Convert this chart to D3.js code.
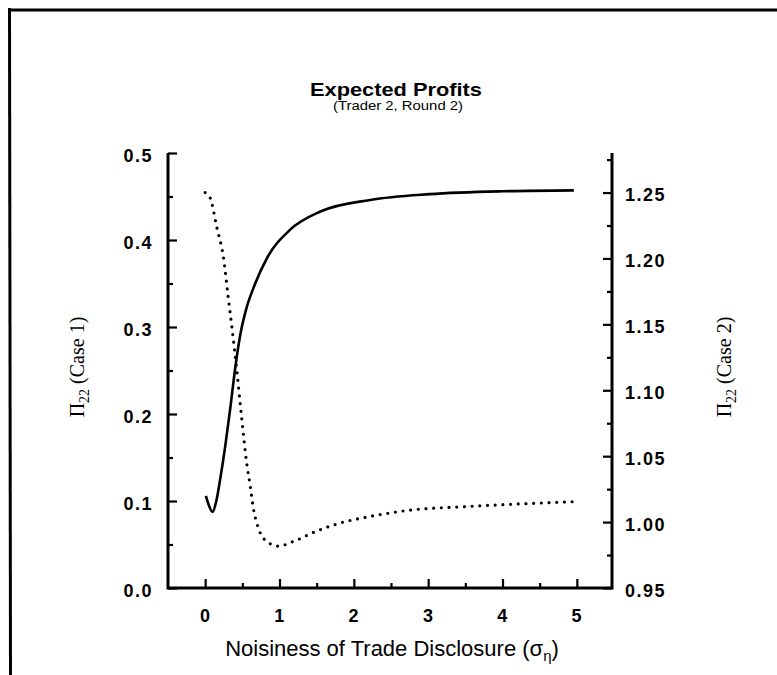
<!DOCTYPE html>
<html>
<head>
<meta charset="utf-8">
<script src="https://cdn.jsdelivr.net/npm/d3@7"></script>
<style>
	body { margin: 0; background: #fff; }
	svg { display: block; }
	.tick text { font-family: "Liberation Sans", Arial, sans-serif; font-weight: bold; font-size: 18px; letter-spacing: 1.5px; fill: #000; }
</style>
</head>
<body>
<div id="vis-container"></div>
<script>

// Case 1 (solid, left axis)
var case1X = [0.01, 0.05, 0.10, 0.15, 0.20, 0.27, 0.34, 0.40, 0.47, 0.55, 0.65, 0.83, 1.14, 1.55, 2.22, 3.02, 4.00, 4.96];
var case1Y = [0.106, 0.095, 0.0875, 0.100, 0.124, 0.163, 0.208, 0.250, 0.290, 0.320, 0.345, 0.379, 0.4116, 0.4327, 0.446, 0.4527, 0.456, 0.457];

// Case 2 (dotted, right axis)
var case2X = [0.0, 0.067, 0.157, 0.246, 0.31, 0.36, 0.426, 0.49, 0.56, 0.605, 0.65, 0.70, 0.80, 0.985, 1.19, 1.50, 1.81, 2.22, 2.73, 3.56, 4.97];
var case2Y = [1.250, 1.246, 1.2235, 1.2008, 1.1705, 1.1477, 1.1149, 1.0796, 1.0442, 1.0278, 1.010, 0.9983, 0.9867, 0.9818, 0.9854, 0.9932, 0.9992, 1.0043, 1.0089, 1.0119, 1.0155];

// tick values
var xTicks = [0, 1, 2, 3, 4, 5];
var xMinor = [0.5, 1.5, 2.5, 3.5, 4.5];
var leftTicks = [0.0, 0.1, 0.2, 0.3, 0.4, 0.5];
var leftMinor = [0.05, 0.15, 0.25, 0.35, 0.45];
var rightTicks = [0.95, 1.00, 1.05, 1.10, 1.15, 1.20, 1.25];
var rightMinor = [0.975, 1.025, 1.075, 1.125, 1.175, 1.225, 1.275];

var width = 777;
var height = 675;

// plot box
var boxLeft = 168, boxRight = 612, boxTop = 153, boxBottom = 588;

var svg = d3.select("#vis-container")
	.append("svg")
	.attr("width", width)
	.attr("height", height);

// scanned frame (top and left edges only)
svg.append("line")
	.attr("x1", 8).attr("x2", width).attr("y1", 10).attr("y2", 10)
	.attr("stroke", "#000").attr("stroke-width", 3);
svg.append("line")
	.attr("x1", 9.5).attr("x2", 10.5).attr("y1", 8).attr("y2", height)
	.attr("stroke", "#000").attr("stroke-width", 3);

var xscale = d3.scaleLinear().domain([-0.5, 5.5]).range([boxLeft, boxRight + 2]);
var yleft = d3.scaleLinear().domain([0, 0.5]).range([boxBottom, boxTop]);
var yright = d3.scaleLinear().domain([0.95, 1.28]).range([boxBottom, boxTop]);

// minor ticks first
svg.append("g")
	.attr("transform", "translate(0," + boxBottom + ")")
	.call(d3.axisBottom(xscale).tickValues(xMinor).tickSize(-5).tickFormat(""))
	.call(function(g) { g.select(".domain").remove(); });
svg.append("g")
	.attr("transform", "translate(" + boxLeft + ",0)")
	.call(d3.axisLeft(yleft).tickValues(leftMinor).tickSize(-5).tickFormat(""))
	.call(function(g) { g.select(".domain").remove(); });
svg.append("g")
	.attr("transform", "translate(" + boxRight + ",0)")
	.call(d3.axisRight(yright).tickValues(rightMinor).tickSize(-5).tickFormat(""))
	.call(function(g) { g.select(".domain").remove(); });

// major axes
var xaxisg = svg.append("g")
	.attr("transform", "translate(0," + boxBottom + ")")
	.call(d3.axisBottom(xscale).tickValues(xTicks).tickSize(-9).tickPadding(21).tickFormat(d3.format("d")));
xaxisg.select(".domain").remove();

var yleftg = svg.append("g")
	.attr("transform", "translate(" + boxLeft + ",0)")
	.call(d3.axisLeft(yleft).tickValues(leftTicks).tickSize(-9).tickPadding(15).tickFormat(d3.format(".1f")));
yleftg.select(".domain").remove();

var yrightg = svg.append("g")
	.attr("transform", "translate(" + boxRight + ",0)")
	.call(d3.axisRight(yright).tickValues(rightTicks).tickSize(-9).tickPadding(13).tickFormat(d3.format(".2f")));
yrightg.select(".domain").remove();

svg.selectAll(".tick line").attr("stroke", "#000").attr("stroke-width", 2.2);
yleftg.selectAll(".tick text").attr("dy", "0.45em");
yrightg.selectAll(".tick text").attr("dy", "0.45em");

// axis frame: left, bottom, right
svg.append("path")
	.attr("d", "M" + boxLeft + "," + boxTop + "V" + boxBottom + "H" + boxRight + "V" + boxTop)
	.attr("fill", "none")
	.attr("stroke", "#000")
	.attr("stroke-width", 3);

// curves
var case1 = case1X.map(function(x, i) { return [x, case1Y[i]]; });
var case2 = case2X.map(function(x, i) { return [x, case2Y[i]]; });

var line1 = d3.line()
	.x(function(d) { return xscale(d[0]); })
	.y(function(d) { return yleft(d[1]); })
	.curve(d3.curveMonotoneX);
var line2 = d3.line()
	.x(function(d) { return xscale(d[0]); })
	.y(function(d) { return yright(d[1]); })
	.curve(d3.curveMonotoneX);

svg.append("path")
	.datum(case2)
	.attr("d", line2)
	.attr("fill", "none")
	.attr("stroke", "#000")
	.attr("stroke-width", 3.2)
	.attr("stroke-linecap", "round")
	.attr("stroke-dasharray", "0 7.7");

svg.append("path")
	.datum(case1)
	.attr("d", line1)
	.attr("fill", "none")
	.attr("stroke", "#000")
	.attr("stroke-width", 2.6);

// titles
svg.append("text")
	.attr("x", 396).attr("y", 96)
	.attr("text-anchor", "middle")
	.attr("textLength", 172)
	.attr("lengthAdjust", "spacingAndGlyphs")
	.style("font-family", "Liberation Sans, Arial, sans-serif")
	.style("font-weight", "bold")
	.style("font-size", "19px")
	.text("Expected Profits");

svg.append("text")
	.attr("x", 398).attr("y", 110)
	.attr("text-anchor", "middle")
	.attr("textLength", 130)
	.attr("lengthAdjust", "spacingAndGlyphs")
	.style("font-family", "Liberation Sans, Arial, sans-serif")
	.style("font-size", "12px")
	.text("(Trader 2, Round 2)");

// x label
var xl = svg.append("text")
	.attr("x", 392).attr("y", 656)
	.attr("text-anchor", "middle")
	.style("font-family", "Liberation Sans, Arial, sans-serif")
	.style("font-size", "22px");
xl.append("tspan").text("Noisiness of Trade Disclosure (σ");
xl.append("tspan").attr("dy", 5).style("font-size", "15px").text("η");
xl.append("tspan").attr("dy", -5).text(")");

// y labels
function ylabel(x, txt) {
	var t = svg.append("text")
		.attr("transform", "translate(" + x + ",367) rotate(-90)")
		.attr("text-anchor", "middle")
		.style("font-family", "Liberation Serif, Times New Roman, serif")
		.style("font-size", "20px");
	t.append("tspan").text("Π");
	t.append("tspan").attr("dy", 5).style("font-size", "14px").text("22");
	t.append("tspan").attr("dy", -5).text(" (" + txt + ")");
}
ylabel(84, "Case 1");
ylabel(731, "Case 2");

</script>
</body>
</html>
